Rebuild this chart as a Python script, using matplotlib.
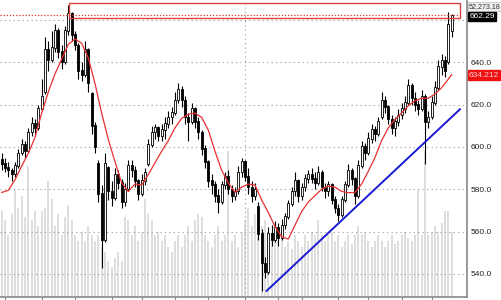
import numpy as np
import matplotlib.pyplot as plt
from matplotlib.patches import Rectangle

# daily bars (price)
opens = [594, 592, 590, 589, 587, 591, 597, 601, 598, 607,
         611, 609, 618, 626, 646, 641, 647, 655, 645, 640,
         655, 663, 653, 648, 636, 634, 646, 625, 610, 592,
         578, 556, 590, 579, 576, 587, 583, 574, 580, 591,
         589, 584, 578, 584, 592, 601, 607, 609, 605, 608,
         611, 614, 616, 622, 627, 622, 614, 612, 618, 612,
         607, 599, 593, 584, 582, 577, 574, 582, 586, 580,
         577, 579, 588, 593, 586, 581, 577, 572, 559, 545,
         541, 559, 556, 562, 557, 563, 567, 573, 579, 584,
         577, 581, 585, 587, 585, 583, 588, 581, 579, 582,
         575, 571, 568, 575, 582, 589, 585, 577, 591, 600,
         597, 604, 608, 606, 614, 622, 619, 613, 609, 612,
         615, 618, 621, 629, 623, 620, 618, 624, 612, 614,
         621, 628, 638, 641, 640, 655]
highs = [597, 595, 593, 590, 593, 599, 604, 603, 609, 614,
         613, 620, 632, 652, 650, 655, 658, 656, 648, 657,
         667, 664, 655, 649, 640, 650, 647, 626, 612, 594,
         582, 597, 591, 584, 590, 589, 585, 583, 594, 594,
         591, 585, 587, 590, 604, 610, 611, 610, 611, 614,
         617, 619, 626, 630, 629, 624, 616, 621, 619, 614,
         608, 601, 594, 587, 584, 580, 584, 588, 589, 582,
         581, 591, 595, 594, 590, 584, 583, 574, 561, 548,
         562, 563, 565, 564, 566, 569, 575, 581, 588, 585,
         583, 587, 589, 590, 588, 591, 589, 583, 584, 583,
         577, 573, 577, 584, 592, 590, 586, 594, 603, 602,
         607, 611, 610, 614, 626, 624, 620, 615, 614, 618,
         621, 624, 632, 630, 626, 622, 627, 625, 617, 624,
         631, 641, 644, 643, 664, 663]
lows = [589, 588, 586, 584, 586, 590, 596, 595, 597, 605,
        606, 608, 617, 625, 636, 640, 645, 642, 637, 639,
        653, 650, 646, 632, 631, 633, 626, 606, 597, 574,
        543, 555, 575, 572, 575, 580, 571, 572, 579, 586,
        581, 575, 577, 582, 591, 600, 604, 603, 603, 604,
        609, 611, 615, 621, 619, 611, 603, 611, 609, 604,
        596, 590, 581, 578, 574, 569, 573, 580, 578, 574,
        575, 578, 586, 584, 578, 574, 575, 556, 532, 538,
        540, 553, 555, 553, 556, 561, 566, 572, 577, 574,
        575, 579, 583, 583, 580, 582, 579, 576, 577, 573,
        569, 565, 567, 574, 581, 582, 573, 576, 590, 594,
        596, 602, 603, 605, 613, 616, 611, 606, 605, 610,
        613, 616, 620, 620, 617, 615, 617, 592, 609, 613,
        620, 627, 634, 633, 639, 652]
closes = [592, 590, 589, 587, 591, 597, 601, 598, 607, 611,
          609, 618, 624, 646, 641, 647, 655, 645, 640, 655,
          663, 653, 648, 636, 634, 646, 630, 610, 600, 578,
          556, 592, 579, 576, 587, 583, 574, 580, 591, 589,
          584, 578, 584, 588, 601, 607, 609, 605, 608, 611,
          614, 616, 622, 627, 622, 614, 612, 618, 612, 607,
          599, 593, 584, 582, 577, 574, 582, 586, 580, 577,
          579, 588, 593, 586, 581, 577, 580, 559, 545, 541,
          559, 556, 562, 557, 563, 567, 573, 579, 584, 577,
          581, 585, 587, 585, 583, 588, 581, 579, 582, 575,
          571, 568, 575, 582, 589, 585, 577, 591, 600, 597,
          604, 608, 606, 612, 622, 619, 613, 609, 612, 615,
          618, 621, 629, 623, 620, 618, 624, 612, 614, 621,
          628, 638, 641, 636, 658, 662.29]
volumes = [29, 26, 21, 28, 36, 30, 34, 27, 44, 26,
           29, 24, 29, 30, 39, 33, 24, 28, 21, 27,
           31, 26, 21, 19, 22, 19, 24, 21, 19, 21,
           17, 15, 12, 10, 13, 15, 12, 27, 26, 21,
           24, 19, 22, 33, 28, 26, 21, 22, 19, 21,
           17, 15, 19, 21, 17, 21, 24, 19, 26, 28,
           27, 21, 19, 17, 21, 24, 19, 21, 49, 19,
           21, 17, 22, 26, 30, 24, 28, 21, 24, 26,
           21, 19, 22, 19, 21, 17, 19, 16, 21, 19,
           17, 21, 19, 22, 21, 26, 21, 19, 21, 22,
           19, 21, 17, 19, 21, 18, 21, 24, 21, 22,
           19, 17, 19, 21, 19, 17, 19, 21, 18, 19,
           21, 22, 20, 19, 21, 36, 21, 49, 21, 22,
           24, 22, 25, 29, 29, 22]

# moving average (red line), read every second bar
ma_idx = list(range(0, 136, 2)) + [135]
ma_vals = [578.5, 579.5, 584.5, 591, 597, 604.5, 616, 626, 634.5, 641.5,
           648.5, 651, 649, 642, 630, 616, 603.5, 593, 583, 579,
           582.5, 582, 587, 592.5, 598, 603, 609, 613.5, 615.5, 616,
           614, 608, 598, 589, 583, 578.5, 581, 582.5, 582, 575,
           569, 562.5, 557.5, 556.5, 563, 569.5, 574, 577, 580, 581.5,
           581, 579, 578.4, 578.5, 582.5, 588.5, 595, 603, 609, 613,
           616, 619.5, 621.8, 623, 623, 625, 628, 632, 634.2]

trend_idx = [79.5, 137.5]
trend_vals = [532.0, 617.8]
box_idx = [20.3, 137.6]
box_vals = [660.8, 668.2]
month_ticks = [1, 12, 22, 33, 42, 52, 62, 73, 83, 90, 101, 110, 120, 129]
price_ticks = [540, 560, 580, 600, 620, 640, 660]
last_price = 662.29
ma_last = 634.212
vol_label = "52,273.18"

plt.rcParams["font.family"] = ["Liberation Sans", "DejaVu Sans"]

fig = plt.figure(figsize=(5.01, 3.0), dpi=100)
pos = [0, 0.01, 0.932, 0.99]

# volume behind
axv = fig.add_axes(pos)
x = np.arange(len(closes))
axv.bar(x, volumes, width=0.62, color="#dedede", linewidth=0)
axv.set_ylim(0, 100)
axv.set_xlim(-0.5, 139.6)
axv.axis("off")

ax = fig.add_axes(pos)
ax.patch.set_alpha(0)
ax.set_xlim(-0.5, 139.6)
ax.set_ylim(529.1, 669.45)

# grid
for p in price_ticks:
    ax.axhline(p, color="#999999", linestyle=(0, (1, 3)), linewidth=0.8, zorder=1)
ax.axvline(73, color="#999999", linestyle=(0, (1, 3)), linewidth=0.8, zorder=1)

# candles
o = np.array(opens, dtype=float)
c = np.array(closes, dtype=float)
ax.vlines(x, lows, highs, color="black", linewidth=0.8, zorder=3)
up = c >= o
ax.bar(x[up], np.abs(c - o)[up] + 0.3, bottom=np.minimum(o, c)[up], width=0.6,
       facecolor="white", edgecolor="black", linewidth=0.6, zorder=4)
ax.bar(x[~up], np.abs(c - o)[~up] + 0.3, bottom=np.minimum(o, c)[~up], width=0.6,
       facecolor="black", edgecolor="black", linewidth=0.6, zorder=4)

# moving average and trend line
ax.plot(ma_idx, ma_vals, color="#e83030", linewidth=0.9, zorder=5)
ax.plot(trend_idx, trend_vals, color="#1a1ad0", linewidth=1.4, zorder=5)

# highlighted zone
ax.add_patch(Rectangle((box_idx[0], box_vals[0]), box_idx[1] - box_idx[0],
                       box_vals[1] - box_vals[0], fill=False,
                       edgecolor="#e04040", linewidth=1, zorder=6))
ax.plot([-0.5, box_idx[1]], [last_price, last_price], color="#e03030",
        linestyle=(0, (1, 1.5)), linewidth=0.9, zorder=6)

# axes styling
ax.yaxis.tick_right()
ax.set_yticks(price_ticks)
ax.set_yticklabels([f"{p:.1f}" for p in price_ticks])
ax.tick_params(axis="y", length=0, labelsize=6, pad=3, colors="#222222")
ax.set_xticks(month_ticks)
ax.set_xticklabels([])
ax.tick_params(axis="x", length=3, color="#888888", direction="out")
for s in ["left", "top"]:
    ax.spines[s].set_visible(False)
for s in ["right", "bottom"]:
    ax.spines[s].set_color("#888888")
    ax.spines[s].set_linewidth(1.2)

# right-side value labels
tr = ax.get_yaxis_transform()
ax.text(1.004, 0.978, vol_label, transform=ax.transAxes, fontsize=5.1, va="center",
        ha="left", color="#333333", zorder=10, clip_on=False,
        bbox=dict(boxstyle="square,pad=0.08", facecolor="#eeeeee", edgecolor="#bbbbbb", linewidth=0.5))
ax.text(1.006, 661.65, f"{last_price:.2f}", transform=tr, fontsize=6, va="center",
        ha="left", color="white", zorder=10, clip_on=False,
        bbox=dict(boxstyle="square,pad=0.15", facecolor="black", edgecolor="black"))
ax.text(1.004, 634.0, f"{ma_last:.3f}", transform=tr, fontsize=6, va="center",
        ha="left", color="#ffd0d0", zorder=10, clip_on=False,
        bbox=dict(boxstyle="square,pad=0.15", facecolor="#ee1111", edgecolor="#ee1111"))

plt.savefig("out.png", dpi=100)
